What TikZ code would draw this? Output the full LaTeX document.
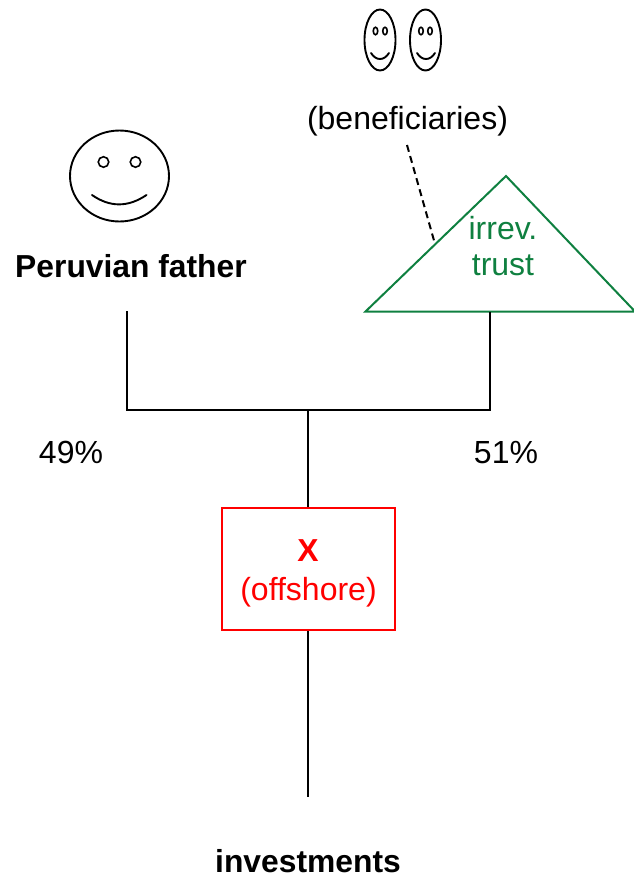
\documentclass[tikz,border=0pt]{standalone}
\usepackage{fontspec}
\setmainfont{Liberation Sans}
\definecolor{trustgreen}{RGB}{15,128,64}
\usetikzlibrary{shapes.geometric}
\tikzset{
  x=1pt,y=-1pt,
  lbl/.style={inner sep=0pt,font=\fontsize{32}{36}\selectfont,anchor=center},
  boldlbl/.style={lbl,font=\fontsize{31.8}{36}\selectfont\bfseries},
  wire/.style={line width=2pt,black},
  face/.style={draw=black,line width=1.9pt,ellipse,inner sep=0pt},
  eye/.style={draw=black,line width=1.6pt,ellipse,inner sep=0pt},
  smile/.style={line width=1.9pt,line cap=round},
}
\begin{document}
\begin{tikzpicture}
\useasboundingbox (0,0) rectangle (633,876);
% large face
\node[face,minimum width=99pt,minimum height=91pt] (father) at (119.5,176) {};
\node[eye,minimum width=10.5pt,minimum height=10.5pt] (fl) at (103.5,162) {};
\node[eye,minimum width=10.5pt,minimum height=10.5pt] (fr) at (135.5,162) {};
\coordinate (fs1) at (92,195); \coordinate (fs2) at (146.5,195);
\draw[smile] (fs1) .. controls (110,207.5) and (128,207.5) .. (fs2);
% small faces
\node[face,minimum width=31pt,minimum height=61pt] (b1) at (380,40) {};
\node[eye,minimum width=4.5pt,minimum height=7.5pt] (b1l) at (375.5,31) {};
\node[eye,minimum width=4.5pt,minimum height=7.5pt] (b1r) at (385,31) {};
\coordinate (b1s) at (371,53); \coordinate (b1e) at (389,53);
\draw[smile] (b1s) .. controls (376,61) and (384,61) .. (b1e);
\node[face,minimum width=31pt,minimum height=61pt] (b2) at (425.5,40) {};
\node[eye,minimum width=4.5pt,minimum height=7.5pt] (b2l) at (421,31) {};
\node[eye,minimum width=4.5pt,minimum height=7.5pt] (b2r) at (430,31) {};
\coordinate (b2s) at (417,53); \coordinate (b2e) at (435,53);
\draw[smile] (b2s) .. controls (422,61) and (430,61) .. (b2e);
% labels
\node[lbl] (benef) at (407.5,121) {(beneficiaries)};
\node[boldlbl] (fatherlbl) at (131,266) {Peruvian father};
\node[lbl] (p49) at (71,452) {49\%};
\node[lbl] (p51) at (506,452.5) {51\%};
\node[boldlbl] (inv) at (308,861.5) {investments};
% trust triangle
\coordinate (apex) at (506,176);
\coordinate (tl) at (365.5,311.5);
\coordinate (tr) at (635,311.5);
\draw[trustgreen,line width=2pt,line join=miter] (apex) -- (tl) -- (tr) -- cycle;
\node[lbl,text=trustgreen] (irrev) at (503,228) {irrev.};
\node[lbl,text=trustgreen] (trust) at (503,265) {trust};
% connectors
\coordinate (dashS) at (407,145);
\coordinate (dashE) at (435,244);
\draw[wire,dash pattern=on 7pt off 4.5pt] (dashS) -- (dashE);
\coordinate (fatherS) at (127,311);
\coordinate (fatherJ) at (127,410);
\coordinate (trustS) at (490,312);
\coordinate (trustJ) at (490,410);
\coordinate (mid) at (308,410);
\node[draw=red,line width=2pt,minimum width=173pt,minimum height=122pt,inner sep=0pt] (x) at (308.5,569) {};
\node[boldlbl,text=red] (xl) at (308,551) {X};
\node[lbl,text=red] (xo) at (308.5,592) {(offshore)};
\coordinate (invS) at (308,797);
\draw[wire] (fatherS) -- (fatherJ) -- (trustJ) -- (trustS);
\draw[wire] (mid) -- (mid |- x.north);
\draw[wire] (x.south -| invS) -- (invS);
\end{tikzpicture}
\end{document}
